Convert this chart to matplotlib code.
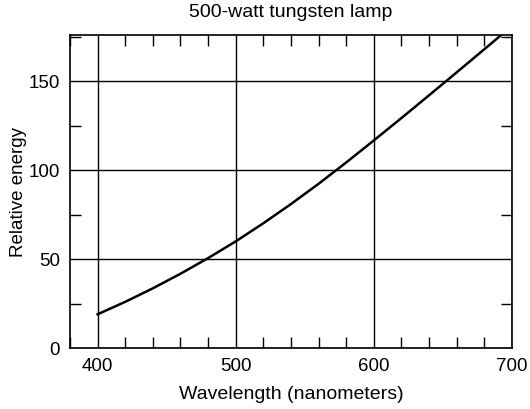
import matplotlib
matplotlib.use("Agg")
import matplotlib.pyplot as plt
from matplotlib.ticker import MultipleLocator

# Relative spectral energy of a 500-watt tungsten lamp
wavelength = [400, 420, 440, 460, 480, 500, 520, 540, 560, 580, 600, 620, 640, 660, 680, 700]
energy = [19, 26, 33.6, 41.8, 50.6, 60, 70.2, 81, 92.4, 104.4, 116.8,
          129.4, 142.2, 155.1, 168.1, 181.2]

x_ticks = [400, 500, 600, 700]
y_ticks = [0, 50, 100, 150]

plt.rcParams["font.family"] = ["Liberation Sans", "DejaVu Sans"]

fig = plt.figure(figsize=(5.3, 4.09), dpi=100)
ax = fig.add_axes([0.132, 0.149, 0.834, 0.765])

ax.plot(wavelength, energy, color="black", linewidth=1.8, solid_joinstyle="round")

ax.set_xlim(380, 700)
ax.set_ylim(0, 176)

ax.set_xticks(x_ticks)
ax.set_yticks(y_ticks)
ax.xaxis.set_minor_locator(MultipleLocator(20))
ax.yaxis.set_minor_locator(MultipleLocator(25))

ax.grid(True, which="major", color="black", linewidth=1.0)
ax.tick_params(which="both", direction="in", top=True, right=True,
               labelsize=13.5, colors="black")
ax.tick_params(which="major", length=0, pad=7)
ax.tick_params(which="minor", length=8, width=1.0)

for spine in ax.spines.values():
    spine.set_linewidth(1.2)

ax.set_title("500-watt tungsten lamp", fontsize=14, pad=13)
ax.set_xlabel("Wavelength (nanometers)", fontsize=14, labelpad=8)
ax.set_ylabel("Relative energy", fontsize=13.5, labelpad=1)

fig.savefig("out.png", dpi=100)
plt.close(fig)
